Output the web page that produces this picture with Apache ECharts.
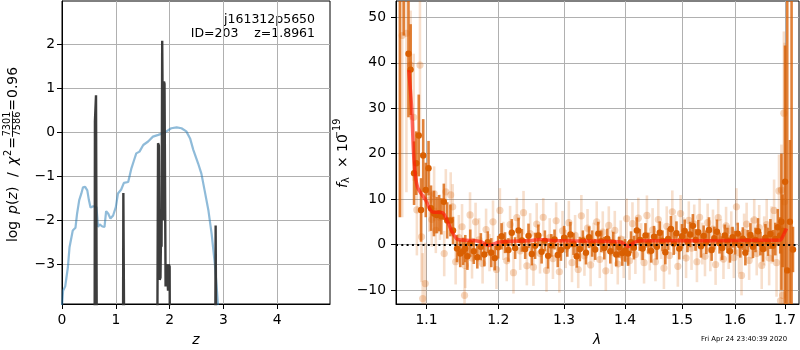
<!DOCTYPE html>
<html>
<head>
<meta charset="utf-8">
<script src="https://cdn.jsdelivr.net/npm/echarts@6/dist/echarts.min.js"></script>
<style>
  html, body { margin: 0; padding: 0; background: #fff; }
  #chart { width: 800px; height: 350px; }
</style>
</head>
<body>
<div id="chart"></div>
<script>
(function () {
    'use strict';

    // ---- left panel: log p(z) and chi2 curves
    var zTicks = [0, 1, 2, 3, 4];
    var logpTicks = [-3, -2, -1, 0, 1, 2];

    var chi2Curve = [[0.0, -3.95], [0.02, -3.6], [0.06, -3.5], [0.11, -3.06], [0.14, -2.61], [0.17, -2.59],
        [0.20, -2.23], [0.25, -2.17], [0.28, -1.85], [0.32, -1.54], [0.36, -1.39], [0.39, -1.25], [0.43, -1.24],
        [0.47, -1.32], [0.50, -1.54], [0.53, -1.71], [0.58, -1.68], [0.61, -1.66], [0.64, -1.70], [0.67, -2.15],
        [0.70, -2.09], [0.75, -2.14], [0.79, -2.15], [0.82, -1.79], [0.86, -1.85], [0.90, -1.96], [0.95, -1.89],
        [1.00, -1.70], [1.04, -1.39], [1.10, -1.30], [1.15, -1.15], [1.23, -1.13], [1.29, -0.82], [1.34, -0.63],
        [1.38, -0.48], [1.44, -0.44], [1.51, -0.29], [1.60, -0.21], [1.69, -0.10], [1.79, -0.06], [1.88, -0.02],
        [1.94, 0.02], [2.03, 0.09], [2.13, 0.11], [2.22, 0.09], [2.31, 0.02], [2.38, -0.14], [2.44, -0.40],
        [2.53, -0.71], [2.59, -0.94], [2.65, -1.32], [2.72, -1.77], [2.78, -2.30], [2.84, -2.99], [2.87, -3.44],
        [2.90, -3.95]];

    var pzCurve = [[0, -10], [0.600, -10], [0.612, 0.25], [0.622, 0.25], [0.632, 0.84], [0.645, 0.84], [0.660, -10],
        [1.125, -10], [1.140, -1.38], [1.160, -1.35], [1.180, -10],
        [1.755, -10], [1.785, -0.25], [1.800, -0.30], [1.815, -3.35], [1.830, -3.30], [1.840, -2.30], [1.850, -2.60],
        [1.862, 2.08], [1.875, 2.08], [1.885, -2.00], [1.895, 1.15], [1.905, 1.10], [1.925, -3.50], [1.940, -3.00],
        [1.955, -3.05], [1.970, -3.60], [1.985, -3.00], [2.000, -3.05], [2.018, -10],
        [2.835, -10], [2.855, -2.12], [2.870, -2.12], [2.885, -10], [4.98, -10]];

    // ---- right panel: spectrum [lambda, flux, err]
    var lamTicks = [1.1, 1.2, 1.3, 1.4, 1.5, 1.6, 1.7];
    var fluxTicks = [-10, 0, 10, 20, 30, 40, 50];

    var specMain = [[1.0650, 58, 52], [1.0700, 70, 24], [1.0762, 42, 14], [1.0790, 38.5, 10], [1.0835, 15.7, 7],
        [1.0864, 17.9, 7], [1.0897, 24, 9], [1.0927, 7.6, 7], [1.0956, 19.6, 8], [1.0990, 12, 6], [1.1027, 16.8, 6],
        [1.1060, 8, 5], [1.1100, 6.8, 5], [1.1135, 6.5, 4], [1.1168, 6.9, 4], [1.1200, 6.2, 4], [1.1234, 9.4, 4],
        [1.1280, 5.3, 4], [1.1324, 5.3, 3.5], [1.1360, 3.1, 3], [1.1415, -0.9, 3], [1.1460, -2.0, 3], [1.1500, -1.5, 3],
        [1.1530, -0.9, 3], [1.1560, -2.6, 3], [1.1600, 0.3, 3],
        [1.165, -1.5, 2.8], [1.170, -2.8, 2.5], [1.175, -0.5, 3.0], [1.180, -2.2, 2.6], [1.185, 0.5, 2.4],
        [1.190, -1.8, 3.2], [1.195, -3.0, 2.7], [1.200, -0.6, 2.5], [1.205, 1.8, 2.9], [1.210, 0.4, 2.3],
        [1.215, -1.2, 2.6], [1.220, 2.6, 3.0], [1.225, -0.8, 2.4], [1.230, 3.1, 2.8], [1.235, 0.9, 2.5],
        [1.240, -1.0, 2.2], [1.245, 1.9, 2.7], [1.250, -2.1, 2.5], [1.255, -0.3, 2.9], [1.260, 2.0, 2.4],
        [1.265, -1.6, 2.6], [1.270, 0.8, 2.3], [1.275, -2.5, 2.8], [1.280, -0.2, 2.5], [1.285, 1.1, 2.2],
        [1.290, -2.3, 2.7], [1.295, -1.2, 2.4], [1.300, 1.5, 2.6], [1.305, -0.4, 2.3], [1.310, 2.2, 2.8],
        [1.315, 0.1, 2.4], [1.320, -2.6, 2.5], [1.325, -1.0, 2.7], [1.330, 0.9, 2.2], [1.335, -1.8, 2.6],
        [1.340, 1.6, 2.4], [1.345, 0.2, 2.9], [1.350, -1.1, 2.3], [1.355, 2.4, 2.6], [1.360, 0.7, 2.4],
        [1.365, -0.8, 2.5], [1.370, 1.3, 2.2], [1.375, -1.5, 2.7], [1.380, 0.4, 2.4], [1.385, -2.2, 2.6],
        [1.390, -0.6, 2.3], [1.395, -1.9, 2.8], [1.400, -1.3, 2.5], [1.405, -2.0, 2.7], [1.410, 0.5, 2.4],
        [1.415, -0.7, 2.6], [1.420, 3.1, 2.9], [1.425, 1.0, 2.4], [1.430, -0.9, 2.5], [1.435, 2.0, 2.7],
        [1.440, 0.3, 2.3], [1.445, -1.4, 2.6], [1.450, 1.7, 2.4], [1.455, -0.5, 2.8], [1.460, 2.6, 2.5],
        [1.465, 0.8, 2.3], [1.470, -1.7, 2.7], [1.475, 1.2, 2.4], [1.480, 3.4, 2.9], [1.485, 0.2, 2.5],
        [1.490, 2.5, 2.6], [1.495, -0.9, 2.4], [1.500, 1.8, 2.7], [1.505, 3.0, 2.5], [1.510, 0.6, 2.3],
        [1.515, 2.2, 2.8], [1.520, 4.1, 2.6], [1.525, 1.0, 2.4], [1.530, 2.7, 2.7], [1.535, -0.4, 2.5],
        [1.540, 1.9, 2.3], [1.545, 0.5, 2.6], [1.550, 3.2, 2.8], [1.555, -1.2, 2.4], [1.560, 1.4, 2.5],
        [1.565, 2.8, 2.7], [1.570, 0.3, 2.3], [1.575, -0.8, 2.6], [1.580, 2.0, 2.4], [1.585, 0.9, 2.8],
        [1.590, -1.5, 2.5], [1.595, 1.6, 2.3], [1.600, 0.4, 2.6], [1.605, 2.4, 2.4], [1.610, -0.2, 2.7],
        [1.615, 1.3, 2.5], [1.620, -1.8, 2.8], [1.625, 0.8, 2.4], [1.630, 2.1, 2.6], [1.635, -0.5, 2.5],
        [1.640, 1.0, 2.7], [1.645, 2.9, 2.9], [1.650, 0.2, 2.6], [1.655, -1.0, 2.8], [1.660, 1.5, 3.0],
        [1.665, 0.6, 3.1], [1.670, 2.3, 3.3], [1.675, -0.3, 3.5], [1.680, 1.2, 3.6], [1.685, 3.8, 4.0],
        [1.6900, 2.0, 4], [1.6925, 5, 15], [1.6950, 3, 8], [1.7000, 13.8, 30], [1.7045, -5.7, 60],
        [1.7100, 5, 18], [1.7135, 62, 80], [1.7164, -1.1, 5]];

    var specAlt = [[1.0680, 46, 40], [1.0735, 46.5, 35], [1.0790, 39.5, 12], [1.0830, 28, 14], [1.0872, 7.6, 10],
        [1.0913, 39.5, 15], [1.0934, 1.7, 10], [1.0949, -11.9, 10], [1.0983, -8.6, 9], [1.1037, 9.8, 7],
        [1.1070, 5.5, 6], [1.1102, 11.2, 6], [1.1125, 3.1, 5], [1.1180, 6.0, 5], [1.1239, -2.0, 5],
        [1.1261, 11.6, 5], [1.1328, 10.9, 5], [1.1355, 8.3, 5], [1.1396, -3.8, 5], [1.1440, 1.5, 5],
        [1.1485, 3.9, 5], [1.1520, -11.2, 6], [1.1530, -4.6, 5], [1.1597, 6.5, 5],
        [1.1625, -3.0, 4.5], [1.1675, 5.0, 4.2], [1.1725, 1.0, 4.8], [1.1775, -4.2, 4.4], [1.1825, 3.3, 4.6],
        [1.1875, -1.8, 4.1], [1.1925, 5.0, 4.7], [1.1975, -5.5, 4.3], [1.2025, 7.5, 4.9], [1.2075, 0.8, 4.2],
        [1.2125, -3.6, 4.5], [1.2175, 4.4, 4.1], [1.2225, -6.2, 4.6], [1.2275, 5.9, 4.4], [1.2325, -1.4, 4.2],
        [1.2375, 7.0, 4.8], [1.2425, -4.7, 4.3], [1.2475, 2.4, 4.5], [1.2525, -5.0, 4.1], [1.2575, 4.5, 4.6],
        [1.2625, -2.0, 4.4], [1.2675, 6.0, 4.2], [1.2725, -5.7, 4.7], [1.2775, 1.5, 4.3], [1.2825, -3.1, 4.5],
        [1.2875, 5.2, 4.1], [1.2925, -6.0, 4.6], [1.2975, 3.0, 4.4], [1.3025, -1.0, 4.2], [1.3075, 4.8, 4.8],
        [1.3125, -4.0, 4.3], [1.3175, 2.0, 4.5], [1.3225, -5.5, 4.1], [1.3275, 6.3, 4.6], [1.3325, -2.5, 4.4],
        [1.3375, 3.6, 4.2], [1.3425, -4.5, 4.7], [1.3475, 0.5, 4.3], [1.3525, 5.0, 4.5], [1.3575, -3.3, 4.1],
        [1.3625, 2.7, 4.6], [1.3675, -5.8, 4.4], [1.3725, 4.2, 4.2], [1.3775, -1.7, 4.8], [1.3825, 3.1, 4.3],
        [1.3875, -4.3, 4.5], [1.3925, 1.2, 4.1], [1.3975, -2.8, 4.6], [1.4025, 5.7, 4.4], [1.4075, -3.6, 4.2],
        [1.4125, 4.6, 4.7], [1.4175, -2.2, 4.3], [1.4225, 5.8, 4.5], [1.4275, 0.6, 4.1], [1.4325, -4.0, 4.6],
        [1.4375, 6.4, 4.4], [1.4425, -1.5, 4.2], [1.4475, 3.2, 4.8], [1.4525, -3.8, 4.3], [1.4575, 5.5, 4.5],
        [1.4625, 0.9, 4.1], [1.4675, -5.2, 4.6], [1.4725, 4.0, 4.4], [1.4775, -2.4, 4.2], [1.4825, 7.2, 4.7],
        [1.4875, 2.2, 4.3], [1.4925, -4.8, 4.5], [1.4975, 6.8, 4.1], [1.5025, 1.4, 4.6], [1.5075, -3.0, 4.4],
        [1.5125, 5.3, 4.2], [1.5175, -0.8, 4.8], [1.5225, 4.5, 4.3], [1.5275, -3.8, 4.5], [1.5325, 6.0, 4.1],
        [1.5375, 0.2, 4.6], [1.5425, -2.6, 4.4], [1.5475, 4.8, 4.2], [1.5525, -1.2, 4.7], [1.5575, 3.4, 4.3],
        [1.5625, -4.4, 4.5], [1.5675, 5.9, 4.1], [1.5725, 1.0, 4.6], [1.5775, -3.2, 4.4], [1.5825, 4.1, 4.2],
        [1.5875, -0.6, 4.8], [1.5925, 3.0, 4.3], [1.5975, -2.9, 4.5], [1.6025, 8.3, 4.1], [1.6075, -1.8, 4.6],
        [1.6125, -6.8, 4.4], [1.6175, 2.6, 4.2], [1.6225, 4.5, 4.7], [1.6275, -3.5, 4.3], [1.6325, 1.3, 4.5],
        [1.6375, 5.4, 4.6], [1.6425, -2.0, 4.8], [1.6475, 3.7, 5.0], [1.6525, -4.6, 5.2], [1.6575, 0.8, 5.4],
        [1.6625, 4.4, 5.6], [1.6675, -3.0, 6.0], [1.6725, 2.1, 6.3], [1.6775, 7.5, 6.8], [1.6825, -4.0, 7.5],
        [1.6875, 11.8, 8], [1.6905, -12.4, 12], [1.6925, 12.0, 10], [1.6950, -11.2, 15], [1.6975, 28.9, 18],
        [1.6990, 9.4, 35]];

    var modelLine = [[1.0766, 38.4], [1.0805, 29.6], [1.0834, 18.5], [1.0879, 12.7], [1.0987, 9.8], [1.1077, 7.2],
        [1.1213, 7.0], [1.1286, 5.0], [1.1356, 2.5], [1.1426, 1.1], [1.160, 0.9], [1.175, 0.6], [1.186, -0.2],
        [1.195, 0.2], [1.200, 0.5], [1.250, 0.9], [1.262, 1.1], [1.280, 0.9], [1.300, 0.8], [1.390, 0.6],
        [1.398, 0.2], [1.405, -0.5], [1.412, 0.2], [1.425, 0.8], [1.500, 0.8], [1.600, 0.9], [1.690, 0.95],
        [1.694, 1.5], [1.703, 3.5]];

    var FONT = 'DejaVu Sans';
    var F_MAIN = '13.9px "DejaVu Sans"';
    var F_ITAL = 'italic 13.9px "DejaVu Sans"';
    var F_SMALL = '9.7px "DejaVu Sans"';
    var LOG = Math.log10;

    function minus(v) {
        return String(v).replace('-', '\u2212');
    }

    // x of the spectrum is plotted in log10(lambda) on a value axis
    function toLog(rows) {
        return rows.map(function (r) {
            var out = r.slice();
            out[0] = LOG(r[0]);
            return out;
        });
    }

    function errorBars(fill, barColor, radius) {
        return function (params, api) {
            var x = api.value(0), y = api.value(1), e = api.value(2);
            var p = api.coord([x, y]);
            var lo = api.coord([x, y - e]);
            var hi = api.coord([x, y + e]);
            return {
                type: 'group',
                children: [{
                    type: 'line',
                    shape: { x1: p[0], y1: lo[1], x2: p[0], y2: hi[1] },
                    style: { stroke: barColor, lineWidth: 2.6 }
                }, {
                    type: 'circle',
                    shape: { cx: p[0], cy: p[1], r: radius },
                    style: { fill: fill }
                }]
            };
        };
    }

    // one piece of rotated label text
    function piece(text, x, y, font, align) {
        return {
            type: 'text', x: x, y: y,
            style: { text: text, font: font, fill: '#000', align: align || 'left', verticalAlign: 'middle' }
        };
    }

    var tickStyle = { show: true, inside: false, length: 5, lineStyle: { color: '#000', width: 1 } };
    var gridLine = { show: true, lineStyle: { color: '#b0b0b0', width: 1 } };
    var labelStyle = { color: '#000', fontFamily: FONT, fontSize: 13.9 };

    var chart = echarts.init(document.getElementById('chart'), null, { renderer: 'canvas' });

    chart.setOption({
        animation: false,
        backgroundColor: '#fff',
        grid: [
            { left: 62, top: 1, width: 268, height: 303, show: true, borderColor: '#000', borderWidth: 1, backgroundColor: 'transparent' },
            { left: 396, top: 1, width: 403, height: 303, show: true, borderColor: '#000', borderWidth: 1, backgroundColor: 'transparent' }
        ],
        xAxis: [{
            gridIndex: 0, type: 'value', min: 0, max: 4.98,
            axisLine: { show: true, onZero: false, lineStyle: { color: '#000' } },
            axisTick: Object.assign({ customValues: zTicks }, tickStyle),
            axisLabel: Object.assign({ customValues: zTicks, margin: 9, formatter: minus }, labelStyle),
            splitLine: gridLine
        }, {
            gridIndex: 1, type: 'value', min: LOG(1.06), max: LOG(1.729),
            axisLine: { show: true, onZero: false, lineStyle: { color: '#000' } },
            axisTick: Object.assign({ customValues: lamTicks.map(LOG) }, tickStyle),
            axisLabel: Object.assign({
                customValues: lamTicks.map(LOG), margin: 9,
                formatter: function (v) { return Math.pow(10, v).toFixed(1); }
            }, labelStyle),
            splitLine: gridLine
        }],
        yAxis: [{
            gridIndex: 0, type: 'value', min: -3.9, max: 2.98,
            axisLine: { show: true, onZero: false, lineStyle: { color: '#000' } },
            axisTick: Object.assign({ customValues: logpTicks }, tickStyle),
            axisLabel: Object.assign({ customValues: logpTicks, margin: 7, formatter: minus }, labelStyle),
            splitLine: gridLine
        }, {
            gridIndex: 1, type: 'value', min: -13.1, max: 53.6,
            axisLine: { show: true, onZero: false, lineStyle: { color: '#000' } },
            axisTick: Object.assign({ customValues: fluxTicks }, tickStyle),
            axisLabel: Object.assign({ customValues: fluxTicks, margin: 10, formatter: minus }, labelStyle),
            splitLine: gridLine
        }],
        series: [{
            name: 'chi2', type: 'line', xAxisIndex: 0, yAxisIndex: 0,
            data: chi2Curve, showSymbol: false, clip: true, z: 2,
            lineStyle: { color: '#1f77b4', opacity: 0.5, width: 2.2 }
        }, {
            name: 'pz', type: 'line', xAxisIndex: 0, yAxisIndex: 0,
            data: pzCurve, showSymbol: false, clip: true, z: 3,
            lineStyle: { color: '#333333', opacity: 0.95, width: 2.4 }
        }, {
            name: 'alt', type: 'custom', xAxisIndex: 1, yAxisIndex: 1,
            data: toLog(specAlt), clip: true, z: 2,
            encode: { x: 0, y: 1 },
            renderItem: errorBars('rgba(217,95,2,0.26)', 'rgba(217,95,2,0.2)', 3.6)
        }, {
            name: 'main', type: 'custom', xAxisIndex: 1, yAxisIndex: 1,
            data: toLog(specMain), clip: true, z: 3,
            encode: { x: 0, y: 1 },
            renderItem: errorBars('#d95f02', 'rgba(217,95,2,0.78)', 3.2)
        }, {
            name: 'model', type: 'line', xAxisIndex: 1, yAxisIndex: 1,
            data: toLog(modelLine), showSymbol: false, clip: true, z: 4, smooth: 0.3,
            lineStyle: { color: 'rgba(255,25,10,0.65)', width: 3.5 }
        }, {
            name: 'zero', type: 'line', xAxisIndex: 1, yAxisIndex: 1,
            data: [], z: 5,
            markLine: {
                silent: true, symbol: 'none', animation: false,
                label: { show: false },
                lineStyle: { color: '#000', type: [2, 3.3], width: 2, opacity: 1 },
                data: [{ yAxis: 0 }]
            }
        }],
        graphic: [{
            // log p(z) / chi^2 = 7301/7586 = 0.96, written bottom to top
            type: 'group', position: [13, 242], rotation: Math.PI / 2,
            children: [
                piece('log', 0, 0, F_MAIN),
                piece('p', 28, 0, F_ITAL),
                piece('(', 37, 0, F_MAIN),
                piece('z', 42.5, 0, F_ITAL),
                piece(')', 50, 0, F_MAIN),
                piece('/', 65, 0, F_MAIN),
                piece('\u03c7', 77, 0, F_ITAL),
                piece('2', 86, -5, F_SMALL),
                piece('=', 99, 0, F_MAIN, 'center'),
                piece('7301', 118, -5.5, F_SMALL, 'center'),
                { type: 'line', shape: { x1: 105, y1: -0.5, x2: 131, y2: -0.5 }, style: { stroke: '#000', lineWidth: 0.8 } },
                piece('7586', 118, 4.5, F_SMALL, 'center'),
                piece('=', 137, 0, F_MAIN, 'center'),
                piece('0.96', 175, 0, F_MAIN, 'right')
            ]
        }, {
            type: 'group', position: [343, 188], rotation: Math.PI / 2,
            children: [
                piece('f', 0, 0, F_ITAL),
                piece('\u03bb', 5, 3.5, F_SMALL),
                piece('\u00d7 10', 20, 0, F_MAIN),
                piece('\u221219', 49, -5.5, F_SMALL)
            ]
        }, {
            type: 'text', x: 196, y: 340,
            style: { text: 'z', font: F_ITAL, fill: '#000', align: 'center', verticalAlign: 'middle' }
        }, {
            type: 'text', x: 597, y: 340,
            style: { text: '\u03bb', font: F_ITAL, fill: '#000', align: 'center', verticalAlign: 'middle' }
        }, {
            type: 'text', x: 315, y: 20,
            style: { text: 'j161312p5650', font: '12.5px "DejaVu Sans"', fill: '#000', align: 'right', verticalAlign: 'middle' }
        }, {
            type: 'text', x: 315, y: 34,
            style: { text: 'ID=203    z=1.8961', font: '12.5px "DejaVu Sans"', fill: '#000', align: 'right', verticalAlign: 'middle' }
        }, {
            type: 'text', x: 744, y: 339,
            style: { text: 'Fri Apr 24 23:40:39 2020', font: '6.9px "DejaVu Sans"', fill: '#000', align: 'center', verticalAlign: 'middle' }
        }]
    });
}());
</script>
</body>
</html>
